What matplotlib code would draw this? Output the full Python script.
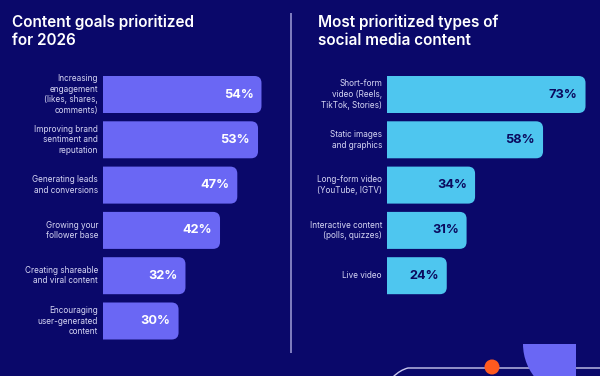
import matplotlib
matplotlib.use("Agg")
import matplotlib.pyplot as plt
from matplotlib.patches import FancyBboxPatch, Circle, Wedge
from matplotlib.path import Path
from matplotlib.patches import PathPatch

plt.rcParams['font.family'] = ['Inter', 'DejaVu Sans']

# ---- data ----
left_title = "Content goals prioritized\nfor 2026"
left_labels = ["Increasing\nengagement\n(likes, shares,\ncomments)",
               "Improving brand\nsentiment and\nreputation",
               "Generating leads\nand conversions",
               "Growing your\nfollower base",
               "Creating shareable\nand viral content",
               "Encouraging\nuser-generated\ncontent"]
left_values = [54, 53, 47, 42, 32, 30]

right_title = "Most prioritized types of\nsocial media content"
right_labels = ["Short-form\nvideo (Reels,\nTikTok, Stories)",
                "Static images\nand graphics",
                "Long-form video\n(YouTube, IGTV)",
                "Interactive content\n(polls, quizzes)",
                "Live video"]
right_values = [73, 58, 34, 31, 24]

# ---- style ----
W, H = 600, 376
DPI = 100
BG = "#0a086a"
LEFT_BAR = "#6a67f4"
RIGHT_BAR = "#4ec6ef"
LABEL_C = "#d6d6f4"

fig = plt.figure(figsize=(W / DPI, H / DPI), dpi=DPI, facecolor=BG)

ROW0 = 94.5     # pixel y of first row center
PITCH = 45.3    # pixel distance between rows
BAR_H_PX = 37
AX_TOP, AX_BOT = 60, 360


def make_panel(x0_px, x1_px, px_per_unit, xmin, values, labels, color, val_color):
    ax = fig.add_axes([x0_px / W, 1 - AX_BOT / H, (x1_px - x0_px) / W, (AX_BOT - AX_TOP) / H])
    ax.set_facecolor("none")
    xmax = xmin + (x1_px - x0_px) / px_per_unit
    ax.set_xlim(xmin, xmax)
    ytop = (AX_TOP - ROW0) / PITCH
    ybot = (AX_BOT - ROW0) / PITCH
    ax.set_ylim(ybot, ytop)
    ax.axis("off")
    bh = BAR_H_PX / PITCH
    aspect = (1 / PITCH) / (1 / px_per_unit)
    r = 7 / px_per_unit
    for i, (v, lab) in enumerate(zip(values, labels)):
        p = FancyBboxPatch((0, i - bh / 2), v, bh,
                           boxstyle=f"round,pad=0,rounding_size={r}",
                           mutation_aspect=aspect, facecolor=color,
                           edgecolor="none", clip_on=True)
        ax.add_patch(p)
        ax.annotate(lab, xy=(0, i), xycoords=("axes fraction", "data"),
                    xytext=(-5, 0), textcoords="offset pixels",
                    ha="right", va="center", fontsize=5.9, color=LABEL_C,
                    linespacing=1.22, multialignment="right")
        ax.annotate(f"{v}%", xy=(v, i), xycoords="data",
                    xytext=(-8, 0), textcoords="offset pixels",
                    ha="right", va="center", fontsize=9.2, fontweight="bold",
                    color=val_color)
    return ax


make_panel(103, 289, 3.455, 8.13, left_values, left_labels, LEFT_BAR, "white")
make_panel(387, 600, 2.832, 2.9, right_values, right_labels, RIGHT_BAR, "#0b0a5e")

# titles
fig.text(12 / W, 1 - 15 / H, left_title, ha="left", va="top", fontsize=11.0,
         fontweight="semibold", color="white", linespacing=1.2)
fig.text(318 / W, 1 - 15 / H, right_title, ha="left", va="top", fontsize=11.0,
         fontweight="semibold", color="white", linespacing=1.2)

# overlay for decorations in pixel coordinates
ov = fig.add_axes([0, 0, 1, 1])
ov.set_xlim(0, W)
ov.set_ylim(H, 0)
ov.axis("off")
ov.set_facecolor("none")
ov.plot([291, 291], [13, 353], color="#8a88c8", lw=1.3, solid_capstyle="butt")

# bottom curve line
verts = [(393, 377), (400, 370), (408, 368), (420, 368), (600, 368)]
codes = [Path.MOVETO, Path.CURVE3, Path.CURVE3, Path.LINETO, Path.LINETO]
ov.add_patch(PathPatch(Path(verts, codes), facecolor="none", edgecolor="#c9c8ee", lw=1.0))
# purple quarter circle
ov.add_patch(Wedge((576, 344), 53, 90, 180, facecolor="#6a67f4", edgecolor="none"))
# orange dot
ov.add_patch(Circle((492, 367), 7.5, facecolor="#ff5a1f", edgecolor="none"))

fig.savefig("out.png", dpi=DPI, facecolor=BG)
